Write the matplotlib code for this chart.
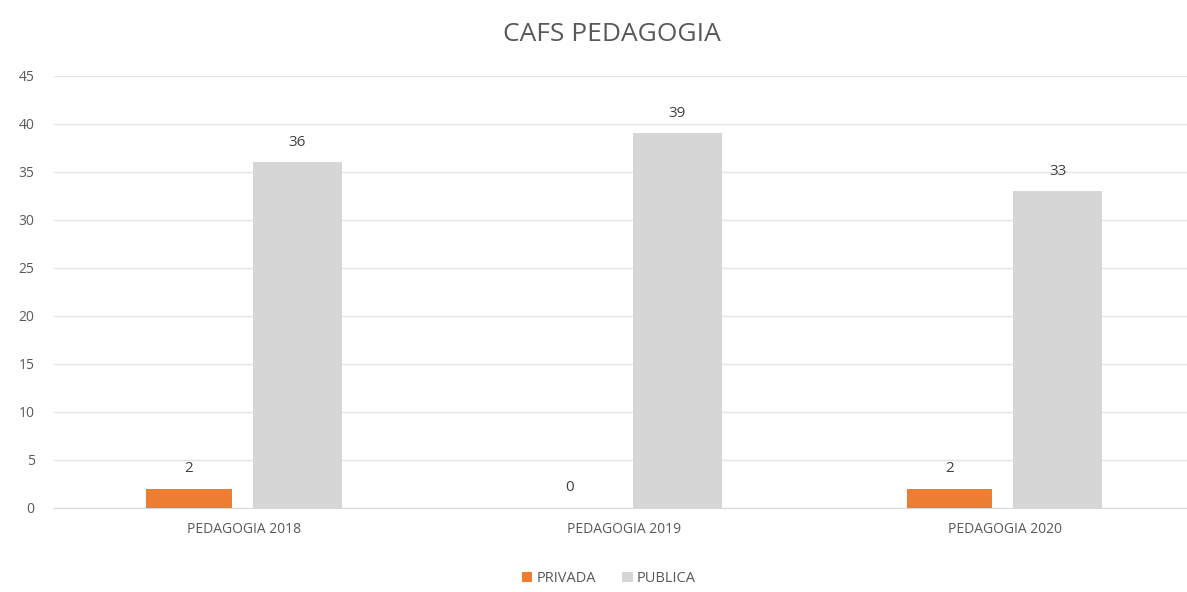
import matplotlib
matplotlib.use("Agg")
from matplotlib import pyplot as plt
import numpy as np

# datos
categorias = ["PEDAGOGIA 2018", "PEDAGOGIA 2019", "PEDAGOGIA 2020"]
privada = [2, 0, 2]
publica = [36, 39, 33]
yticks = [0, 5, 10, 15, 20, 25, 30, 35, 40, 45]

plt.rcParams['font.family'] = ['Open Sans', 'DejaVu Sans']
gris_txt = '#595959'

fig = plt.figure(figsize=(11.87, 5.92), dpi=100)
ax = fig.add_axes([0.0455, 0.142, 0.9545, 0.73])

x = np.arange(len(categorias))
b1 = ax.bar(x - 0.145, privada, 0.225, color='#ed7d31', label='PRIVADA', zorder=3)
b2 = ax.bar(x + 0.14, publica, 0.233, color='#d6d6d6', label='PUBLICA', zorder=3)

for bars, vals in ((b1, privada), (b2, publica)):
    for r, v in zip(bars, vals):
        ax.text(r.get_x() + r.get_width() / 2, v + 1.3, str(v), ha='center', va='bottom',
                fontsize=11, color='#404040')

ax.set_xlim(-0.5, 2.48)
ax.set_ylim(0, 45)
ax.set_yticks(yticks)
ax.set_xticks(x)
ax.set_xticklabels(categorias)
ax.tick_params(axis='both', length=0, labelsize=10, colors=gris_txt)
ax.tick_params(axis='y', pad=14)
ax.tick_params(axis='x', pad=10)
ax.grid(axis='y', color='#e3e3e3', linewidth=1, zorder=0)
for s in ['top', 'right', 'left']:
    ax.spines[s].set_visible(False)
ax.spines['bottom'].set_color('#d9d9d9')

fig.text(0.5156, 0.942, 'CAFS PEDAGOGIA', ha='center', va='center', fontsize=19, color=gris_txt)

fig.legend(loc='center', bbox_to_anchor=(0.513, 0.022), ncol=2, frameon=False, fontsize=10.5,
           handlelength=0.7, handleheight=0.7, handletextpad=0.3, columnspacing=1.8,
           labelcolor=gris_txt)

plt.savefig('out.png', dpi=100)
